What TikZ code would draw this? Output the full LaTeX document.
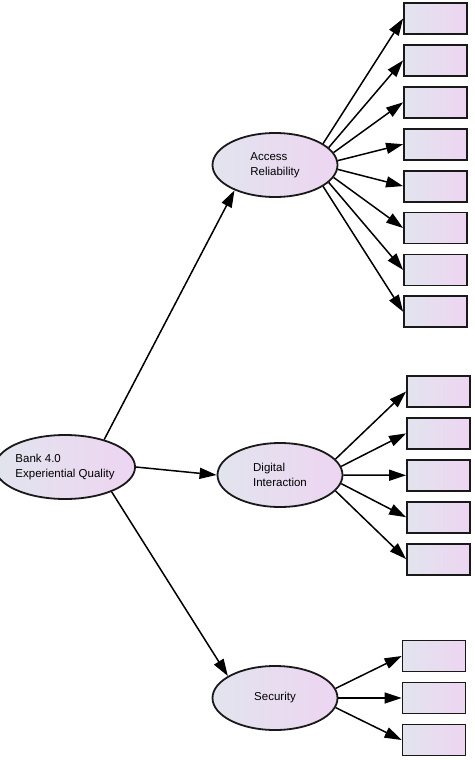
\documentclass[tikz,border=0pt]{standalone}
\usepackage{fontspec}
\setmainfont{Liberation Sans}
\usetikzlibrary{shapes.geometric,arrows.meta}
\definecolor{leftc}{RGB}{226,228,238}
\definecolor{rightc}{RGB}{237,213,241}
\definecolor{edgec}{RGB}{25,25,25}
\tikzset{
  latent/.style={ellipse,draw=edgec,line width=1.8pt,left color=leftc,right color=rightc,
    minimum width=125pt,minimum height=64pt,inner sep=0pt,align=left,
    font=\fontsize{11.5pt}{15pt}\selectfont},
  indic/.style={rectangle,draw=edgec,line width=1.8pt,left color=leftc,right color=rightc,
    minimum width=63pt,minimum height=31pt,inner sep=0pt},
  conn/.style={line width=1.5pt,draw=black,-{Triangle[length=17pt,width=11pt]}}
}
\begin{document}
\begin{tikzpicture}[x=1pt,y=-1pt]
\useasboundingbox (0,0) rectangle (474,760);
\node[latent] (bank) at (65,467) {Bank 4.0\\Experiential Quality};
\node[latent] (acc) at (275,165) {Access\\Reliability};
\node[latent] (dig) at (280,475) {Digital\\Interaction};
\node[latent] (sec) at (275,698) {Security};
\foreach \i in {1,...,8}{
  \node[indic] (a\i) at (435.5,{18.5+41.9*(\i-1)}) {};
}
\foreach \i in {1,...,5}{
  \node[indic] (d\i) at (438.5,{391.5+41.9*(\i-1)}) {};
}
\foreach \i in {1,...,3}{
  \node[indic] (s\i) at (434,{656+42*(\i-1)}) {};
}
\draw[conn] (bank.35) -- (acc.212);
\draw[conn] (bank.east) -- (dig.west);
\draw[conn] (bank.-28) -- (sec.155);
\foreach \i/\a in {1/24,2/18,3/12,4/4.5,5/-4.5,6/-12,7/-18,8/-24}{
  \draw[conn] (acc.\a) -- (a\i.west);
}
\foreach \i/\a in {1/16,2/8,3/0,4/-8,5/-16}{
  \draw[conn] (dig.\a) -- (d\i.west);
}
\foreach \i/\a in {1/9,2/0,3/-9}{
  \draw[conn] (sec.\a) -- (s\i.west);
}
\end{tikzpicture}
\end{document}
